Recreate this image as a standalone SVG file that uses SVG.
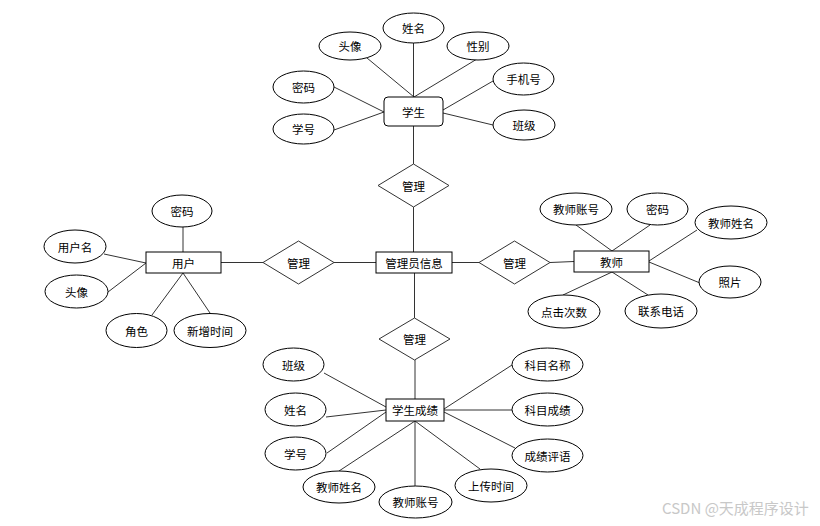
<svg xmlns="http://www.w3.org/2000/svg" width="820" height="526" viewBox="0 0 820 526">
<style>
.e{fill:#fff;stroke:#000;stroke-width:1}
.r{fill:#fff;stroke:#000;stroke-width:1}
.d{fill:#fff;stroke:#333;stroke-width:1}
.c line{stroke:#333;stroke-width:1}
text{font-family:"Noto Sans CJK SC","Liberation Sans",sans-serif;font-size:11.5px;fill:#000;text-anchor:middle;dominant-baseline:central}
.wm{font-size:15px;fill:#c8c8c8;text-anchor:start}
</style>
<rect width="820" height="526" fill="#fff"/>
<g class="c" id="connectors">
<line x1="413.5" y1="43" x2="413.5" y2="97"/>
<line x1="367" y1="58" x2="414" y2="97"/>
<line x1="477" y1="59" x2="414" y2="97"/>
<line x1="334" y1="87" x2="384" y2="112"/>
<line x1="334" y1="130" x2="384" y2="112"/>
<line x1="493" y1="81" x2="443" y2="110"/>
<line x1="493" y1="125" x2="443" y2="113"/>
<line x1="413.5" y1="126" x2="413.5" y2="164"/>
<line x1="413.5" y1="207" x2="413.5" y2="252"/>
<line x1="334" y1="262.5" x2="376" y2="262.5"/>
<line x1="452" y1="262.5" x2="479" y2="262.5"/>
<line x1="414.5" y1="273" x2="414.5" y2="318"/>
<line x1="221" y1="262.5" x2="263" y2="262.5"/>
<line x1="183" y1="227" x2="183" y2="252"/>
<line x1="104" y1="254" x2="146" y2="263"/>
<line x1="108" y1="292" x2="146" y2="263"/>
<line x1="152" y1="315" x2="183" y2="273"/>
<line x1="210" y1="313" x2="183" y2="273"/>
<line x1="550" y1="262.5" x2="574" y2="261.5"/>
<line x1="576" y1="225" x2="612" y2="251"/>
<line x1="650" y1="225" x2="612" y2="251"/>
<line x1="697" y1="230" x2="649" y2="261"/>
<line x1="700" y1="283" x2="649" y2="262"/>
<line x1="563" y1="295" x2="612" y2="272"/>
<line x1="648" y1="295" x2="612" y2="272"/>
<line x1="415" y1="360" x2="415" y2="399"/>
<line x1="324" y1="373" x2="386" y2="407"/>
<line x1="326" y1="417" x2="386" y2="410"/>
<line x1="327" y1="453" x2="386" y2="412"/>
<line x1="339" y1="471" x2="415" y2="421"/>
<line x1="415" y1="486" x2="415" y2="421"/>
<line x1="480" y1="469" x2="415" y2="421"/>
<line x1="515" y1="448" x2="444" y2="412"/>
<line x1="512" y1="410" x2="444" y2="410"/>
<line x1="512" y1="365" x2="444" y2="409"/>
</g>
<g id="student"><rect class="r" x="384" y="97" width="59" height="29" rx="4"/><text x="413.5" y="111.5">学生</text></g>
<g id="s-name"><ellipse class="e" cx="413.5" cy="28" rx="30.5" ry="15"/><text x="413.5" y="28">姓名</text></g>
<g id="s-avatar"><ellipse class="e" cx="350" cy="46" rx="31" ry="14"/><text x="350" y="46">头像</text></g>
<g id="s-gender"><ellipse class="e" cx="478" cy="46" rx="31" ry="14"/><text x="478" y="46">性别</text></g>
<g id="s-pwd"><ellipse class="e" cx="303.5" cy="87" rx="30.5" ry="16"/><text x="303.5" y="87">密码</text></g>
<g id="s-no"><ellipse class="e" cx="303.5" cy="129" rx="30.5" ry="15"/><text x="303.5" y="129">学号</text></g>
<g id="s-phone"><ellipse class="e" cx="523.5" cy="79" rx="30.5" ry="16"/><text x="523.5" y="79">手机号</text></g>
<g id="s-class"><ellipse class="e" cx="524" cy="125" rx="31" ry="15"/><text x="524" y="125">班级</text></g>
<g id="rel-top"><polygon class="d" points="413.5,164 449,185.5 413.5,207 378,185.5"/><text x="413.5" y="185.5">管理</text></g>
<g id="rel-left"><polygon class="d" points="298.5,241 334,262.5 298.5,284 263,262.5"/><text x="298.5" y="262.5">管理</text></g>
<g id="rel-right"><polygon class="d" points="514.5,241 550,262.5 514.5,284 479,262.5"/><text x="514.5" y="262.5">管理</text></g>
<g id="rel-bottom"><polygon class="d" points="414.5,318 450,339 414.5,360 379,339"/><text x="414.5" y="339">管理</text></g>
<g id="admin"><rect class="r" x="376" y="252" width="76" height="21"/><text x="414" y="262.5">管理员信息</text></g>
<g id="user"><rect class="r" x="146" y="252" width="75" height="21"/><text x="183.5" y="262.5">用户</text></g>
<g id="u-pwd"><ellipse class="e" cx="182" cy="211" rx="30" ry="16"/><text x="182" y="211">密码</text></g>
<g id="u-name"><ellipse class="e" cx="75" cy="246.5" rx="31" ry="16.5"/><text x="75" y="246.5">用户名</text></g>
<g id="u-avatar"><ellipse class="e" cx="76.5" cy="291.5" rx="31.5" ry="16.5"/><text x="76.5" y="291.5">头像</text></g>
<g id="u-role"><ellipse class="e" cx="136.5" cy="330.5" rx="30.5" ry="17"/><text x="136.5" y="330.5">角色</text></g>
<g id="u-time"><ellipse class="e" cx="210" cy="330.5" rx="36" ry="17"/><text x="210" y="330.5">新增时间</text></g>
<g id="teacher"><rect class="r" x="574" y="251" width="75" height="21"/><text x="611.5" y="261.5">教师</text></g>
<g id="t-acc"><ellipse class="e" cx="576" cy="209" rx="36" ry="16"/><text x="576" y="209">教师账号</text></g>
<g id="t-pwd"><ellipse class="e" cx="657.5" cy="209" rx="30.5" ry="16"/><text x="657.5" y="209">密码</text></g>
<g id="t-name"><ellipse class="e" cx="731" cy="222.5" rx="36" ry="16.5"/><text x="731" y="222.5">教师姓名</text></g>
<g id="t-photo"><ellipse class="e" cx="730" cy="282" rx="31" ry="16"/><text x="730" y="282">照片</text></g>
<g id="t-click"><ellipse class="e" cx="564" cy="311.5" rx="36" ry="16.5"/><text x="564" y="311.5">点击次数</text></g>
<g id="t-tel"><ellipse class="e" cx="661" cy="311" rx="36" ry="17"/><text x="661" y="311">联系电话</text></g>
<g id="score"><rect class="r" x="386" y="399" width="58" height="22"/><text x="415" y="410">学生成绩</text></g>
<g id="c-class"><ellipse class="e" cx="293.5" cy="364.5" rx="30.5" ry="16.5"/><text x="293.5" y="364.5">班级</text></g>
<g id="c-name"><ellipse class="e" cx="295.5" cy="409.5" rx="30.5" ry="16.5"/><text x="295.5" y="409.5">姓名</text></g>
<g id="c-no"><ellipse class="e" cx="295.5" cy="453.5" rx="30.5" ry="16.5"/><text x="295.5" y="453.5">学号</text></g>
<g id="c-tname"><ellipse class="e" cx="339" cy="487" rx="36" ry="16"/><text x="339" y="487">教师姓名</text></g>
<g id="c-tacc"><ellipse class="e" cx="415.5" cy="502" rx="36.5" ry="16"/><text x="415.5" y="502">教师账号</text></g>
<g id="c-upload"><ellipse class="e" cx="491" cy="485.5" rx="36" ry="16.5"/><text x="491" y="485.5">上传时间</text></g>
<g id="c-comment"><ellipse class="e" cx="547.5" cy="455.5" rx="35.5" ry="16.5"/><text x="547.5" y="455.5">成绩评语</text></g>
<g id="c-score"><ellipse class="e" cx="547.5" cy="409.5" rx="35.5" ry="16.5"/><text x="547.5" y="409.5">科目成绩</text></g>
<g id="c-subject"><ellipse class="e" cx="547.5" cy="364.5" rx="35.5" ry="16.5"/><text x="547.5" y="364.5">科目名称</text></g>
<text class="wm" x="662" y="507">CSDN @天成程序设计</text>
</svg>
